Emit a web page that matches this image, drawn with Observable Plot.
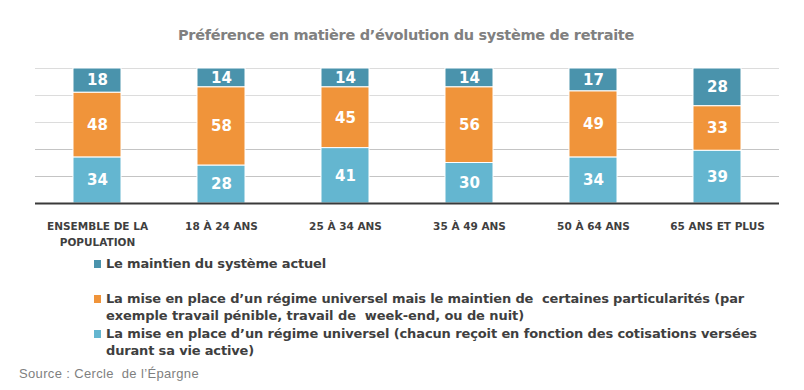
<!DOCTYPE html>
<html>
<head>
<meta charset="utf-8">
<script src="https://cdn.jsdelivr.net/npm/d3@7"></script>
<script src="https://cdn.jsdelivr.net/npm/@observablehq/plot@0.6"></script>
<style>
  html, body { margin: 0; padding: 0; background: #ffffff; }
  #wrap { position: relative; width: 804px; height: 390px; overflow: hidden; }
  .fit { position: absolute; white-space: pre; }
  .fit span { display: inline-block; white-space: pre; }
  #title { font-family: "DejaVu Sans", sans-serif; font-weight: bold; font-size: 14.5px; line-height: 1; color: #808080; }
  .leg { font-family: "DejaVu Sans", sans-serif; font-weight: bold; font-size: 13px; line-height: 17.3px; color: #3f3f3f; }
  .mk { position: absolute; width: 7px; height: 8px; }
  #source { font-family: "Liberation Sans", Arial, sans-serif; font-size: 13px; line-height: 1; color: #7f7f7f; }
  #chart { position: absolute; left: 0; top: 55px; }
</style>
</head>
<body>
<div id="wrap">
  <div id="title" class="fit" style="left:178px; top:28px;" data-w="456"><span>Préférence en matière d’évolution du système de retraite</span></div>
  <div id="chart"></div>
  <div id="legend"></div>
  <div id="source" class="fit" style="left:19px; top:367px;" data-w="180"><span>Source : Cercle  de l’Épargne</span></div>
</div>
<script>
// ---- data ----
const categories = ["ENSEMBLE DE LA\nPOPULATION", "18 À 24 ANS", "25 À 34 ANS", "35 À 49 ANS", "50 À 64 ANS", "65 ANS ET PLUS"];
const series = [
  "Le maintien du système actuel",
  "La mise en place d’un régime universel mais le maintien de  certaines particularités (par exemple travail pénible, travail de  week-end, ou de nuit)",
  "La mise en place d’un régime universel (chacun reçoit en fonction des cotisations versées durant sa vie active)"
];
const maintienActuel = [18, 14, 14, 14, 17, 28];
const universelParticularites = [48, 58, 45, 56, 49, 33];
const universelCotisations = [34, 28, 41, 30, 34, 39];
const colors = ["#4a93ac", "#f0943a", "#64b6d0"];
const legendLines = [
  ["Le maintien du système actuel"],
  ["La mise en place d’un régime universel mais le maintien de  certaines particularités (par", "exemple travail pénible, travail de  week-end, ou de nuit)"],
  ["La mise en place d’un régime universel (chacun reçoit en fonction des cotisations versées", "durant sa vie active)"]
];
const legendWidths = [[220], [638, 418], [651, 148]];

// ---- table ----
const values = [maintienActuel, universelParticularites, universelCotisations];
const data = categories.flatMap((c, i) => series.map((s, k) => ({cat: c, serie: s, value: values[k][i]})));
const stackOrder = [series[2], series[1], series[0]];

const chart = Plot.plot({
  width: 804,
  height: 195,
  marginLeft: 35,
  marginRight: 25,
  marginTop: 13,
  marginBottom: 47,
  style: {fontFamily: "DejaVu Sans, sans-serif", background: "transparent"},
  x: {domain: categories, paddingInner: 0.6129, paddingOuter: 0.30645, round: false, label: null},
  y: {domain: [0, 100], axis: null},
  color: {domain: series, range: colors},
  marks: [
    Plot.ruleY([20, 40], {stroke: "#c4c4c4"}),
    Plot.ruleY([60, 80, 100], {stroke: "#dcdcdc"}),
    Plot.barY(data, {x: "cat", y: "value", fill: "serie", order: stackOrder, stroke: "white", strokeWidth: 1}),
    Plot.text(data, Plot.stackY({x: "cat", y: "value", z: "serie", text: "value", order: stackOrder,
      fill: "white", fontSize: 15, fontWeight: "bold"})),
    Plot.ruleY([0], {stroke: "#3a3a3a", strokeWidth: 2}),
    Plot.axisX({tickSize: 0, tickPadding: 15, fontSize: 10.5, fontWeight: "bold", fill: "#3f3f3f", lineHeight: 1.52, label: null})
  ]
});
document.getElementById("chart").appendChild(chart);

// ---- legend ----
const legend = document.getElementById("legend");
const tops = [255, 289.5, 324.5];
const baselines = [268, 302.7, 337.7];
legendLines.forEach((lines, k) => {
  const mk = document.createElement("div");
  mk.className = "mk";
  mk.style.left = "94px";
  mk.style.top = (baselines[k] - 8) + "px";
  mk.style.background = colors[k];
  legend.appendChild(mk);
  lines.forEach((ln, j) => {
    const d = document.createElement("div");
    d.className = "fit leg";
    d.style.left = "106px";
    d.style.top = (tops[k] + j * 17.3) + "px";
    d.dataset.w = legendWidths[k][j];
    const sp = document.createElement("span");
    sp.textContent = ln;
    d.appendChild(sp);
    legend.appendChild(d);
  });
});

// ---- fit text widths ----
document.querySelectorAll(".fit").forEach(el => {
  const sp = el.querySelector("span");
  const target = +el.dataset.w;
  const w = sp.getBoundingClientRect().width;
  const n = sp.textContent.length;
  sp.style.letterSpacing = ((target - w) / n) + "px";
});
</script>
</body>
</html>
